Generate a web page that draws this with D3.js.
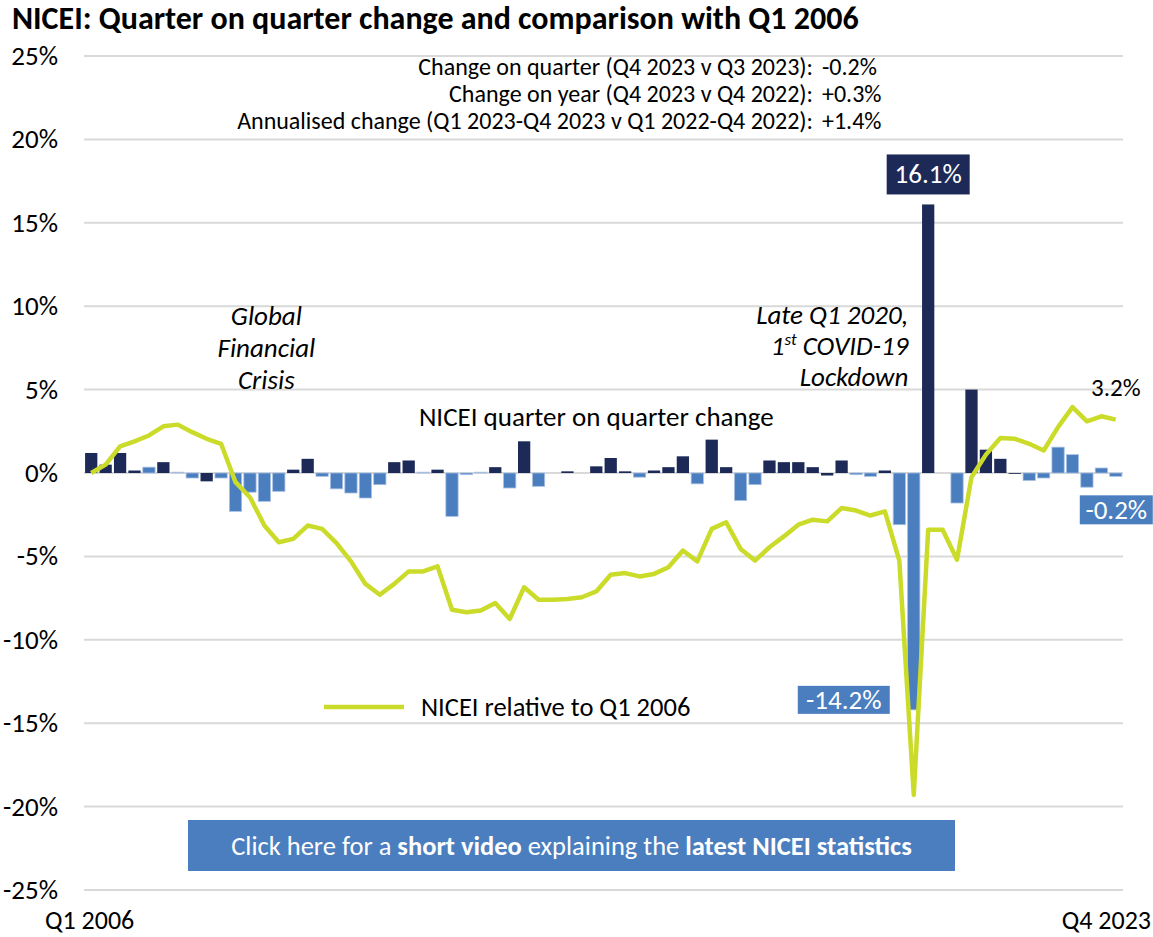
<!DOCTYPE html>
<html>
<head>
<meta charset="utf-8">
<script src="https://cdn.jsdelivr.net/npm/d3@7"></script>
<style>
  body { margin: 0; background: #fff; }
  svg text { font-family: Carlito, Calibri, Lato, sans-serif; fill: #000; }
</style>
</head>
<body>
<script>
// quarter on quarter change (%), Q1 2006 .. Q4 2023
const qoqChange = [
  1.2, 0.5, 1.2, 0.15, 0.35, 0.65, 0.05, -0.3,
  -0.5, -0.3, -2.3, -1.15, -1.7, -1.1, 0.2, 0.85,
  -0.2, -0.95, -1.2, -1.5, -0.7, 0.65, 0.75, 0.05,
  0.2, -2.6, -0.1, 0.05, 0.35, -0.9, 1.9, -0.8,
  0, 0.1, 0, 0.4, 0.9, 0.1, -0.25, 0.15,
  0.35, 1.0, -0.65, 2.0, 0.35, -1.65, -0.7, 0.75,
  0.65, 0.65, 0.35, -0.15, 0.75, -0.1, -0.2, 0.15,
  -3.1, -14.2, 16.1, 0, -1.8, 5.0, 1.4, 0.85,
  -0.05, -0.45, -0.3, 1.55, 1.1, -0.85, 0.3, -0.2
];
// which bar series each quarter belongs to (1 = dark, 0 = light)
const qoqSeries = [
  1, 1, 1, 1, 0, 1, 0, 0,
  1, 0, 0, 0, 0, 0, 1, 1,
  0, 0, 0, 0, 0, 1, 1, 0,
  1, 0, 0, 0, 1, 0, 1, 0,
  1, 1, 1, 1, 1, 1, 0, 1,
  1, 1, 0, 1, 1, 0, 0, 1,
  1, 1, 1, 1, 1, 0, 0, 1,
  0, 0, 1, 1, 0, 1, 1, 1,
  1, 0, 0, 0, 0, 0, 0, 0
];
// NICEI relative to Q1 2006 (%)
const relative = [
  0.0, 0.5, 1.6, 1.9, 2.25, 2.8, 2.9, 2.45,
  2.05, 1.75, -0.55, -1.45, -3.15, -4.15, -3.95, -3.15,
  -3.35, -4.2, -5.3, -6.65, -7.3, -6.65, -5.9, -5.9,
  -5.6, -8.2, -8.35, -8.25, -7.8, -8.75, -6.85, -7.6,
  -7.6, -7.55, -7.45, -7.1, -6.1, -6.0, -6.2, -6.05,
  -5.65, -4.65, -5.3, -3.35, -2.95, -4.55, -5.25, -4.45,
  -3.8, -3.1, -2.8, -2.9, -2.1, -2.25, -2.55, -2.3,
  -5.25, -19.3, -3.4, -3.4, -5.2, -0.25, 1.1, 2.1,
  2.05, 1.75, 1.35, 2.75, 3.95, 3.1, 3.4, 3.2
];
const quarters = d3.range(qoqChange.length).map(i => `Q${i % 4 + 1} ${2006 + Math.floor(i / 4)}`);
const yTicks = [25, 20, 15, 10, 5, 0, -5, -10, -15, -20, -25];
const statLabels = [
  'Change on quarter (Q4 2023 v Q3 2023):',
  'Change on year (Q4 2023 v Q4 2022):',
  'Annualised change (Q1 2023-Q4 2023 v Q1 2022-Q4 2022):'
];
const statValues = ['-0.2%', '+0.3%', '+1.4%'];

const width = 1153, height = 937;
const plotLeft = 84, plotRight = 1123, plotTop = 56, plotBottom = 890;
const dark = '#1d2a57', light = '#4a7ebf', lime = '#cbdb2a', grid = '#d9d9d9';

const svg = d3.select('body').append('svg')
  .attr('width', width)
  .attr('height', height);

const x = d3.scaleBand()
  .domain(quarters)
  .range([plotLeft, plotRight])
  .paddingInner(0.15)
  .paddingOuter(0.075);

const y = d3.scaleLinear()
  .domain([-25, 25])
  .range([plotBottom, plotTop]);

const cx = i => x(quarters[i]) + x.bandwidth() / 2;

// title
svg.append('text')
  .attr('x', 12).attr('y', 29)
  .style('font-size', '32px').style('font-weight', 'bold')
  .text('NICEI: Quarter on quarter change and comparison with Q1 2006');

// gridlines + y labels
const yAxis = svg.append('g').attr('id', 'y-axis');
yAxis.selectAll('line')
  .data(yTicks).enter().append('line')
  .attr('x1', plotLeft).attr('x2', plotRight)
  .attr('y1', d => y(d)).attr('y2', d => y(d))
  .style('stroke', grid).style('stroke-width', 2);
yAxis.selectAll('text')
  .data(yTicks).enter().append('text')
  .attr('x', 58).attr('y', d => y(d))
  .attr('dy', '0.33em')
  .attr('text-anchor', 'end')
  .style('font-size', '27px')
  .text(d => d + '%');

// x labels (first and last only)
svg.append('text')
  .attr('x', 45).attr('y', 929)
  .style('font-size', '26px')
  .text(quarters[0]);
svg.append('text')
  .attr('x', 1151).attr('y', 929)
  .attr('text-anchor', 'end')
  .style('font-size', '26px')
  .text(quarters[quarters.length - 1]);

// stats block
statLabels.forEach((s, i) => {
  svg.append('text')
    .attr('x', 813).attr('y', 75 + i * 27)
    .attr('text-anchor', 'end')
    .style('font-size', '24px')
    .text(s);
  svg.append('text')
    .attr('x', 822).attr('y', 75 + i * 27)
    .style('font-size', '24px')
    .text(statValues[i]);
});

// bars
svg.append('g').selectAll('rect')
  .data(qoqChange).enter().append('rect')
  .attr('x', (d, i) => x(quarters[i]))
  .attr('width', x.bandwidth())
  .attr('y', d => y(Math.max(0, d)))
  .attr('height', d => d === 0 ? 0 : Math.max(Math.abs(y(d) - y(0)), 0.8))
  .attr('fill', (d, i) => qoqSeries[i] ? dark : light)
  .style('stroke', (d, i) => qoqSeries[i] || d === 0 ? 'none' : '#a9c1e3')
  .style('stroke-width', 0.8);

// line
const line = d3.line()
  .x((d, i) => cx(i))
  .y(d => y(d));
svg.append('path')
  .datum(relative)
  .attr('d', line)
  .style('fill', 'none')
  .style('stroke', lime)
  .style('stroke-width', 4.5)
  .style('stroke-linejoin', 'round');

// annotations
const gfc = svg.append('text')
  .attr('x', cx(12) + 2).attr('y', 325)
  .attr('text-anchor', 'middle')
  .style('font-size', '27px').style('font-style', 'italic');
['Global', 'Financial', 'Crisis'].forEach((t, i) => {
  gfc.append('tspan').attr('x', cx(12) + 2).attr('dy', i ? 32 : 0).text(t);
});

const cov = svg.append('text')
  .attr('x', cx(56) + 9).attr('y', 324)
  .attr('text-anchor', 'end')
  .style('font-size', '27px').style('font-style', 'italic');
cov.append('tspan').attr('x', cx(56) + 9).text('Late Q1 2020,');
const l2 = cov.append('tspan').attr('x', cx(56) + 9).attr('dy', 31);
l2.append('tspan').text('1');
l2.append('tspan').attr('dy', -10).style('font-size', '17px').text('st');
l2.append('tspan').attr('dy', 10).text(' COVID-19');
cov.append('tspan').attr('x', cx(56) + 9).attr('dy', 31).text('Lockdown');

svg.append('text')
  .attr('x', cx(35)).attr('y', 426)
  .attr('text-anchor', 'middle')
  .style('font-size', '27px')
  .text('NICEI quarter on quarter change');

// data labels
const boxLabel = (txt, fill, bx, by, bw, bh) => {
  svg.append('rect')
    .attr('x', bx).attr('y', by).attr('width', bw).attr('height', bh)
    .attr('fill', fill);
  svg.append('text')
    .attr('x', bx + bw / 2).attr('y', by + bh / 2)
    .attr('dy', '0.33em')
    .attr('text-anchor', 'middle')
    .style('font-size', '27px').style('fill', '#fff')
    .text(txt);
};
const iMax = qoqChange.indexOf(d3.max(qoqChange));
const iMin = qoqChange.indexOf(d3.min(qoqChange));
const iLast = qoqChange.length - 1;
boxLabel(qoqChange[iMax].toFixed(1) + '%', dark, cx(iMax) - 41.5, y(qoqChange[iMax]) - 50, 83, 40);
boxLabel(qoqChange[iMin].toFixed(1) + '%', light, cx(iMin) - 116, y(qoqChange[iMin]) - 24, 92, 28);
boxLabel(qoqChange[iLast].toFixed(1) + '%', light, cx(iLast) - 36, y(qoqChange[iLast]) + 19, 73, 29);

svg.append('text')
  .attr('x', cx(iLast)).attr('y', y(relative[iLast]) - 32)
  .attr('dy', '0.33em')
  .attr('text-anchor', 'middle')
  .style('font-size', '25px')
  .text(relative[iLast].toFixed(1) + '%');

// legend
svg.append('line')
  .attr('x1', 324).attr('x2', 404)
  .attr('y1', 707).attr('y2', 707)
  .style('stroke', lime).style('stroke-width', 4.5);
svg.append('text')
  .attr('x', 421).attr('y', 707)
  .attr('dy', '0.33em')
  .style('font-size', '26.5px')
  .text('NICEI relative to Q1 2006');

// video button
svg.append('rect')
  .attr('x', 188).attr('y', 820).attr('width', 767).attr('height', 51)
  .attr('fill', light);
const btn = svg.append('text')
  .attr('x', 571.5).attr('y', 846)
  .attr('dy', '0.33em')
  .attr('text-anchor', 'middle')
  .style('font-size', '26.5px').style('fill', '#fff');
btn.append('tspan').style('fill', '#fff').text('Click here for a ');
btn.append('tspan').style('fill', '#fff').style('font-weight', 'bold').text('short video');
btn.append('tspan').style('fill', '#fff').text(' explaining the ');
btn.append('tspan').style('fill', '#fff').style('font-weight', 'bold').text('latest NICEI statistics');
</script>
</body>
</html>
